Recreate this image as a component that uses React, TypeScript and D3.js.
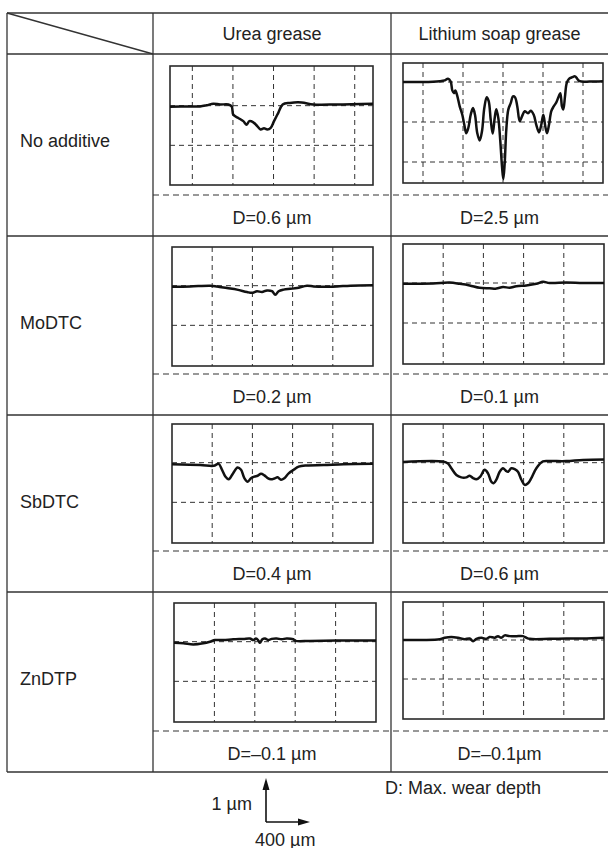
import * as d3 from 'd3';

// Wear-track profiles (x: µm along the track from the box's left edge,
// z: µm relative to the unworn surface, negative = worn away).

const GREASES = ['Urea grease', 'Lithium soap grease'];
const ADDITIVES = ['No additive', 'MoDTC', 'SbDTC', 'ZnDTP'];

const UREA_DEPTHS = ['D=0.6 µm', 'D=0.2 µm', 'D=0.4 µm', 'D=–0.1 µm'];
const LITHIUM_DEPTHS = ['D=2.5 µm', 'D=0.1 µm', 'D=0.6 µm', 'D=–0.1µm'];

const UREA_NONE: [number, number][] = [
  [0, -0.03], [197, -0.02], [296, -0.02], [361, 0.01], [427, 0.05], [493, 0.03],
  [575, 0.03], [608, -0.02], [624, -0.23], [673, -0.31], [722, -0.39], [755, -0.48],
  [782, -0.39], [821, -0.42], [854, -0.5], [893, -0.6], [926, -0.57], [959, -0.6],
  [992, -0.56], [1025, -0.39], [1067, -0.18], [1110, 0.03], [1182, 0.07], [1297, 0.08],
  [1412, 0.03], [1642, 0.03], [2000, 0.05],
];

const LITHIUM_NONE: [number, number][] = [
  [0, 0], [200, 0], [367, 0.02], [417, 0.04], [450, 0.08], [477, 0.01], [493, -0.21],
  [510, -0.28], [523, -0.21], [540, -0.32], [567, -0.61], [593, -0.82], [613, -1.07],
  [633, -1.28], [653, -1.15], [677, -0.82], [700, -0.65], [720, -0.82], [743, -1.28],
  [767, -1.46], [790, -1.23], [813, -0.65], [837, -0.38], [857, -0.48], [877, -0.94],
  [897, -1.29], [917, -0.9], [933, -0.68], [953, -0.9], [973, -1.48], [990, -2.11],
  [1003, -2.43], [1017, -2.03], [1033, -1.19], [1053, -0.69], [1077, -0.53], [1100, -0.36],
  [1120, -0.38], [1143, -0.61], [1167, -0.98], [1190, -0.86], [1217, -0.73], [1250, -0.78],
  [1277, -0.72], [1307, -0.82], [1333, -1.07], [1360, -1.26], [1383, -1.07], [1403, -0.82],
  [1423, -1.11], [1440, -1.28], [1460, -1.07], [1483, -0.73], [1507, -0.61], [1533, -0.51],
  [1557, -0.36], [1573, -0.28], [1590, -0.61], [1603, -0.69], [1620, -0.36], [1637, -0.03],
  [1660, 0.08], [1693, 0.12], [1720, 0.14], [1743, 0.08], [1767, 0.02], [1867, 0.01],
  [2000, 0.02],
];

const UREA_MODTC: [number, number][] = [
  [0, -0.03], [182, -0.02], [381, 0], [448, -0.02], [547, -0.06], [647, -0.1],
  [746, -0.16], [796, -0.18], [846, -0.14], [896, -0.16], [945, -0.12], [995, -0.14],
  [1028, -0.23], [1061, -0.14], [1111, -0.1], [1178, -0.08], [1244, -0.06], [1343, 0],
  [1410, -0.02], [1509, -0.03], [1642, -0.02], [1775, 0], [2000, 0.01],
];

const LITHIUM_MODTC: [number, number][] = [
  [0, -0.02], [299, -0.01], [464, 0.01], [564, -0.02], [663, -0.06], [763, -0.12],
  [862, -0.13], [929, -0.14], [995, -0.1], [1061, -0.12], [1128, -0.08], [1227, -0.06],
  [1327, -0.02], [1393, 0.03], [1459, 0], [1625, 0.01], [1791, 0], [2000, 0],
];

const UREA_SBDTC: [number, number][] = [
  [0, -0.04], [282, -0.06], [415, -0.08], [464, -0.03], [498, -0.18], [531, -0.35],
  [564, -0.42], [607, -0.27], [653, -0.12], [687, -0.18], [720, -0.39], [753, -0.48],
  [786, -0.39], [819, -0.35], [852, -0.33], [886, -0.28], [919, -0.32], [952, -0.39],
  [985, -0.42], [1018, -0.4], [1051, -0.37], [1085, -0.43], [1118, -0.39], [1161, -0.27],
  [1211, -0.18], [1260, -0.1], [1343, -0.07], [1509, -0.06], [1708, -0.04], [2000, -0.03],
];

const LITHIUM_SBDTC: [number, number][] = [
  [0, 0.02], [398, 0.03], [448, -0.02], [481, -0.14], [531, -0.31], [580, -0.37],
  [630, -0.37], [663, -0.33], [697, -0.39], [730, -0.42], [769, -0.35], [813, -0.18],
  [846, -0.27], [879, -0.48], [902, -0.52], [929, -0.43], [962, -0.23], [995, -0.14],
  [1022, -0.2], [1045, -0.23], [1078, -0.14], [1111, -0.16], [1144, -0.23], [1178, -0.43],
  [1211, -0.56], [1244, -0.52], [1277, -0.39], [1327, -0.14], [1393, 0.03], [1459, 0.04],
  [1625, 0.04], [1791, 0.07], [2000, 0.08],
];

const UREA_ZNDTP: [number, number][] = [
  [0, -0.03], [92, -0.04], [191, -0.07], [290, -0.04], [356, 0], [406, 0.04],
  [488, 0.04], [587, 0.06], [686, 0.07], [752, 0.08], [785, 0.04], [812, 0.08],
  [835, 0.03], [851, -0.03], [875, 0.06], [901, 0.08], [934, 0.04], [967, 0.07],
  [1016, 0.08], [1066, 0.06], [1115, 0.08], [1181, 0.06], [1205, 0.02], [1346, 0.02],
  [1610, 0.03], [2000, 0.03],
];

const LITHIUM_ZNDTP: [number, number][] = [
  [0, 0], [199, 0], [365, 0.02], [415, 0.06], [481, 0.08], [547, 0.06], [614, 0.02],
  [663, 0.04], [697, -0.03], [730, 0.03], [780, 0.06], [829, 0.03], [862, 0.08],
  [912, 0.06], [945, 0.1], [978, 0.06], [1012, 0.12], [1061, 0.1], [1128, 0.1],
  [1194, 0.1], [1227, 0.06], [1260, 0.03], [1459, 0.03], [1625, 0.04], [1791, 0.04],
  [2000, 0.06],
];

const PROFILES = [
  [UREA_NONE, LITHIUM_NONE],
  [UREA_MODTC, LITHIUM_MODTC],
  [UREA_SBDTC, LITHIUM_SBDTC],
  [UREA_ZNDTP, LITHIUM_ZNDTP],
];

// ---- layout ---------------------------------------------------------------
const WIDTH = 608;
const HEIGHT = 848;
const FONT = '"Liberation Sans", Arial, Helvetica, sans-serif';
const INK = '#222';
const TABLE_LEFT = 7;
const TABLE_TOP = 13;
const TABLE_RIGHT = 608;
const COL_X = [153, 391];
const ROW_Y = [54, 236, 415, 592, 772];
const TRACK_UM = 2000; // 5 divisions of 400 µm
const DEPTH_DIVS = 3; // 3 divisions of 1 µm

interface Box {
  left: number;
  top: number;
  width: number;
  height: number;
  gridOffset: number; // µm from left edge to first vertical grid line
  zTop: number; // µm above the surface at the box top
}

const BOXES: Box[][] = [
  [
    { left: 170, top: 66, width: 203, height: 119, gridOffset: 220, zTop: 1.0 },
    { left: 403, top: 63, width: 200, height: 120, gridOffset: 200, zTop: 0.475 },
  ],
  [
    { left: 172, top: 247, width: 201, height: 119, gridOffset: 0, zTop: 0.975 },
    { left: 403, top: 244, width: 201, height: 120, gridOffset: 0, zTop: 0.975 },
  ],
  [
    { left: 172, top: 424, width: 201, height: 119, gridOffset: 0, zTop: 0.975 },
    { left: 403, top: 424, width: 201, height: 119, gridOffset: 0, zTop: 0.975 },
  ],
  [
    { left: 174, top: 603, width: 202, height: 119, gridOffset: 0, zTop: 0.975 },
    { left: 403, top: 602, width: 201, height: 117, gridOffset: 0, zTop: 0.975 },
  ],
];

function ProfilePanel({ box, data }: { box: Box; data: [number, number][] }) {
  const x = d3.scaleLinear().domain([0, TRACK_UM]).range([box.left, box.left + box.width]);
  const y = d3
    .scaleLinear()
    .domain([box.zTop, box.zTop - DEPTH_DIVS])
    .range([box.top, box.top + box.height]);

  const xGrid = d3.range(box.gridOffset, TRACK_UM, 400).filter((v) => v > 50 && v < TRACK_UM - 50);
  const yGrid = d3
    .range(Math.floor(box.zTop), box.zTop - DEPTH_DIVS, -1)
    .filter((v) => v < box.zTop - 0.1 && v > box.zTop - DEPTH_DIVS + 0.1);

  const line = d3
    .line<[number, number]>()
    .x((d) => x(d[0]))
    .y((d) => y(d[1]))
    .curve(d3.curveCatmullRom.alpha(0.5));

  return (
    <g>
      {xGrid.map((v) => (
        <line
          key={`x${v}`}
          x1={x(v)}
          x2={x(v)}
          y1={y.range()[0]}
          y2={y.range()[1]}
          stroke="#333"
          strokeWidth={1}
          strokeDasharray="5 4"
        />
      ))}
      {yGrid.map((v) => (
        <line
          key={`y${v}`}
          x1={x.range()[0]}
          x2={x.range()[1]}
          y1={y(v)}
          y2={y(v)}
          stroke="#333"
          strokeWidth={1}
          strokeDasharray="5 4"
        />
      ))}
      <rect
        x={x.range()[0]}
        y={y.range()[0]}
        width={x.range()[1] - x.range()[0]}
        height={y.range()[1] - y.range()[0]}
        fill="none"
        stroke="#2a2a2a"
        strokeWidth={1.6}
      />
      <path d={line(data) ?? ''} fill="none" stroke="#111" strokeWidth={2.5} strokeLinejoin="round" />
    </g>
  );
}

export default function App() {
  const textProps = { fontFamily: FONT, fontSize: 18, fill: INK };
  const colCenters = [(COL_X[0] + COL_X[1]) / 2, (COL_X[1] + TABLE_RIGHT) / 2];
  const depthLabels = [UREA_DEPTHS, LITHIUM_DEPTHS];

  // scale bar: 1 division = 1 µm vertically, 400 µm horizontally
  const barX = 266;
  const barY = 822;
  const barLen = 44;

  return (
    <svg
      width={WIDTH}
      height={HEIGHT}
      viewBox={`0 0 ${WIDTH} ${HEIGHT}`}
      style={{ position: 'absolute', left: 0, top: 0, background: '#fff' }}
    >
      <rect x={0} y={0} width={WIDTH} height={HEIGHT} fill="#fff" />

      {/* table frame */}
      <g stroke="#333" strokeWidth={1.3}>
        {ROW_Y.concat([TABLE_TOP]).map((ry) => (
          <line key={`r${ry}`} x1={TABLE_LEFT} x2={TABLE_RIGHT} y1={ry} y2={ry} />
        ))}
        <line x1={TABLE_LEFT} x2={TABLE_LEFT} y1={TABLE_TOP} y2={ROW_Y[ROW_Y.length - 1]} />
        {COL_X.map((cx) => (
          <line key={`c${cx}`} x1={cx} x2={cx} y1={TABLE_TOP} y2={ROW_Y[ROW_Y.length - 1]} />
        ))}
        <line x1={TABLE_LEFT} y1={TABLE_TOP} x2={COL_X[0]} y2={ROW_Y[0]} />
      </g>

      {/* dashed separators above the depth labels */}
      {ROW_Y.slice(1).map((ry) => (
        <line
          key={`d${ry}`}
          x1={COL_X[0]}
          x2={TABLE_RIGHT}
          y1={ry - 41}
          y2={ry - 41}
          stroke="#333"
          strokeWidth={1.2}
          strokeDasharray="6 4"
        />
      ))}

      {/* header */}
      {GREASES.map((g, i) => (
        <text key={g} x={colCenters[i]} y={40} textAnchor="middle" {...textProps}>
          {g}
        </text>
      ))}

      {/* rows */}
      {ADDITIVES.map((a, r) => (
        <g key={a}>
          <text x={20} y={ROW_Y[r] + 86 + 6.5} {...textProps}>
            {a}
          </text>
          {GREASES.map((g, c) => (
            <g key={g}>
              <ProfilePanel box={BOXES[r][c]} data={PROFILES[r][c]} />
              <text x={colCenters[c]} y={ROW_Y[r + 1] - 19 + 6.5} textAnchor="middle" {...textProps}>
                {depthLabels[c][r]}
              </text>
            </g>
          ))}
        </g>
      ))}

      {/* scale bar legend */}
      <g stroke="#111" strokeWidth={1.6} fill="none">
        <line x1={barX} y1={barY} x2={barX} y2={barY - barLen + 10} />
        <line x1={barX} y1={barY} x2={barX + barLen - 10} y2={barY} />
      </g>
      <path d={`M${barX},${barY - barLen} L${barX - 3.5},${barY - barLen + 12} L${barX + 3.5},${barY - barLen + 12} Z`} fill="#111" />
      <path d={`M${barX + barLen},${barY} L${barX + barLen - 12},${barY - 3.5} L${barX + barLen - 12},${barY + 3.5} Z`} fill="#111" />
      <text x={barX - 14} y={803 + 6.5} textAnchor="end" {...textProps}>
        1 µm
      </text>
      <text x={barX - 11} y={839 + 6.5} {...textProps}>
        400 µm
      </text>
      <text x={385} y={787 + 6.5} {...textProps}>
        D: Max. wear depth
      </text>
    </svg>
  );
}
